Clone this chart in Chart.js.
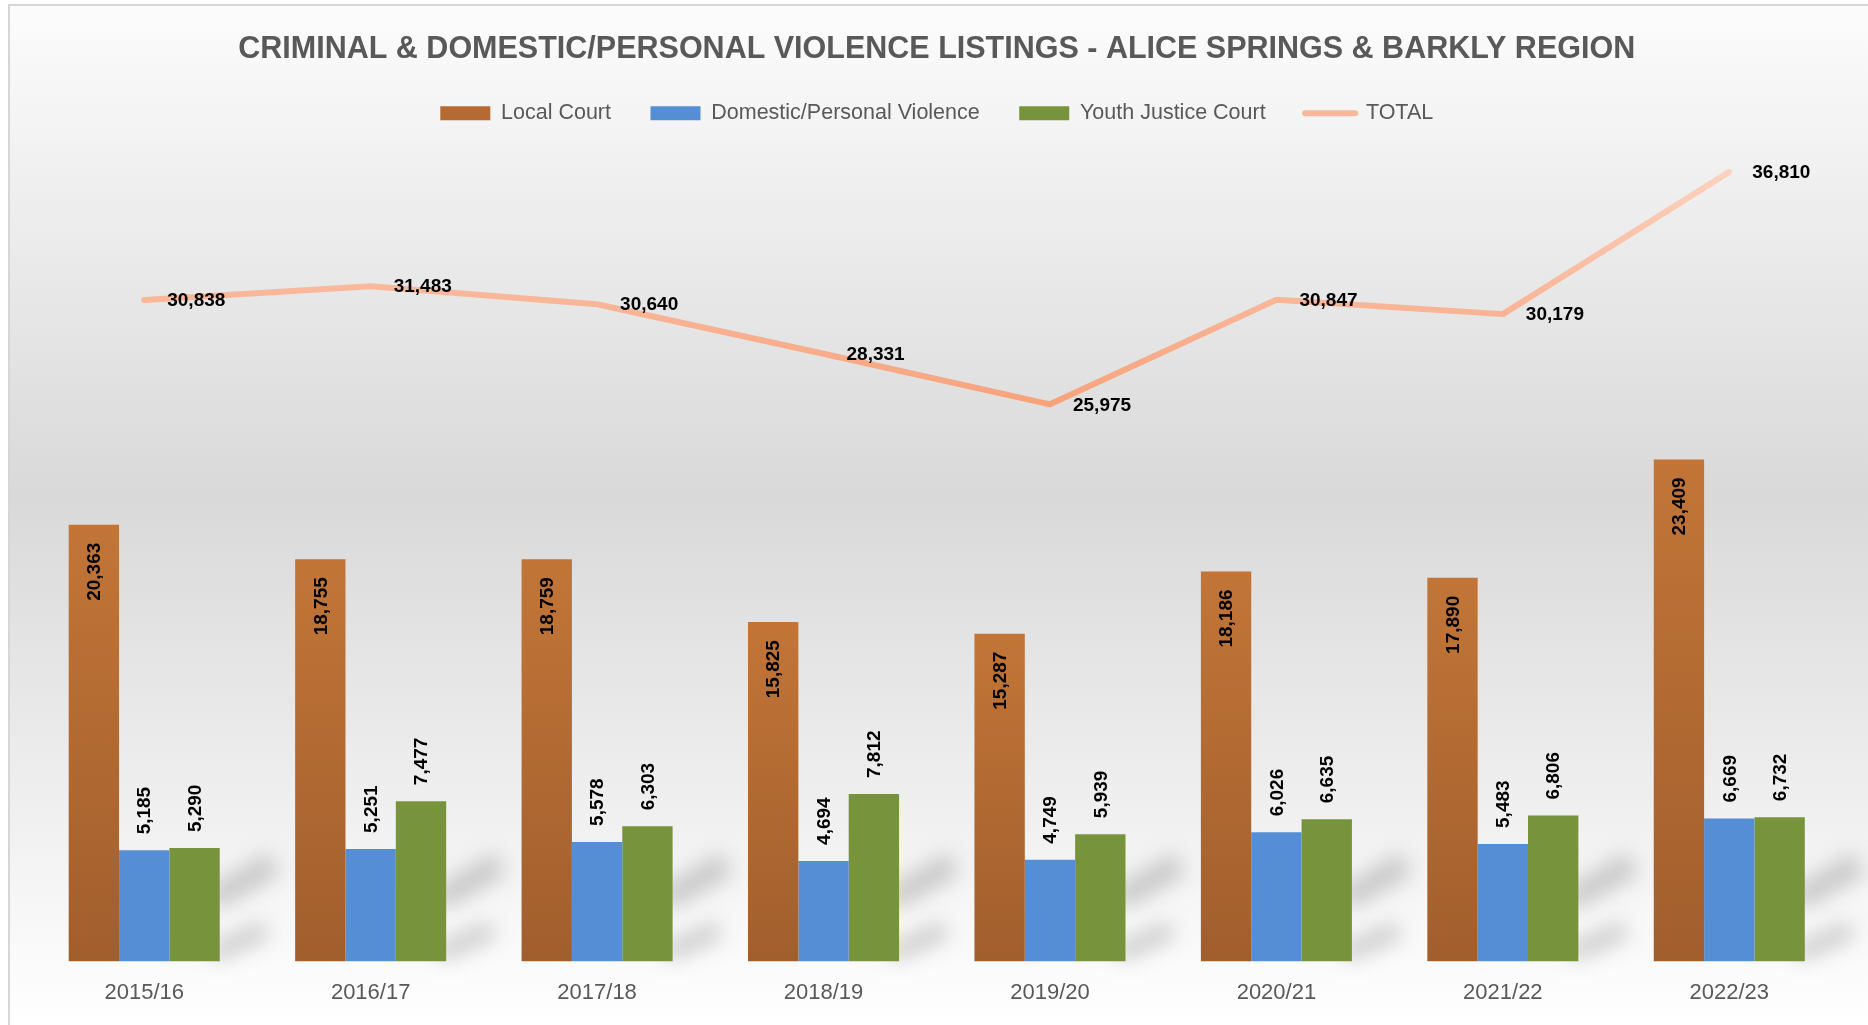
<!DOCTYPE html>
<html>
<head>
<meta charset="utf-8">
<title>Criminal & Domestic/Personal Violence Listings</title>
<script src="https://cdn.jsdelivr.net/npm/chart.js@4"></script>
<style>
    html, body { margin: 0; padding: 0; background: #fff; }
    #wrapper { position: relative; width: 1868px; height: 1025px; }
</style>
</head>
<body>
<div id="wrapper">
    <canvas id="barChart" width="1868" height="1025"></canvas>
</div>
<script>
var years = ["2015/16", "2016/17", "2017/18", "2018/19", "2019/20", "2020/21", "2021/22", "2022/23"];
var localCourt = [20363, 18755, 18759, 15825, 15287, 18186, 17890, 23409];
var domesticViolence = [5185, 5251, 5578, 4694, 4749, 6026, 5483, 6669];
var youthJustice = [5290, 7477, 6303, 7812, 5939, 6635, 6806, 6732];
var total = [30838, 31483, 30640, 28331, 25975, 30847, 30179, 36810];

var FONT = '"Liberation Sans", Arial, sans-serif';
Chart.defaults.font.family = FONT;

// Excel style background: light at top, grey in the middle, white at the bottom
var background = {
    id: 'background',
    beforeDraw: function (chart) {
        var ctx = chart.ctx, w = chart.width, h = chart.height;
        ctx.save();
        ctx.fillStyle = '#ffffff';
        ctx.fillRect(0, 0, w, h);
        var g = ctx.createLinearGradient(0, 5, 0, h);
        g.addColorStop(0, '#fcfcfc');
        g.addColorStop(0.48, '#d9d9d9');
        g.addColorStop(1, '#ffffff');
        ctx.fillStyle = g;
        ctx.fillRect(9, 5, w - 9, h - 5);
        ctx.strokeStyle = '#d6d6d6';
        ctx.lineWidth = 2;
        ctx.beginPath();
        ctx.moveTo(9, h);
        ctx.lineTo(9, 5);
        ctx.lineTo(w, 5);
        ctx.stroke();
        ctx.restore();
    }
};

// soft perspective shadow to the right of each bar group
var barShadows = {
    id: 'barShadows',
    beforeDatasetsDraw: function (chart) {
        var ctx = chart.ctx;
        var meta = chart.getDatasetMeta(2);
        ctx.save();
        ctx.filter = 'blur(10px)';
        ctx.strokeStyle = 'rgba(100,100,100,0.3)';
        ctx.lineCap = 'butt';
        meta.data.forEach(function (bar) {
            var xr = bar.x + bar.width / 2;
            ctx.lineWidth = 24;
            ctx.beginPath();
            ctx.moveTo(xr - 8, bar.base - 62);
            ctx.lineTo(xr + 54, bar.base - 98);
            ctx.stroke();
            ctx.lineWidth = 18;
            ctx.beginPath();
            ctx.moveTo(xr - 8, bar.base - 8);
            ctx.lineTo(xr + 46, bar.base - 32);
            ctx.stroke();
        });
        ctx.restore();
    }
};

var valueLabels = {
    id: 'valueLabels',
    afterDatasetsDraw: function (chart) {
        var ctx = chart.ctx;
        ctx.save();
        ctx.font = 'bold 19px ' + FONT;
        ctx.fillStyle = '#000';
        ctx.textBaseline = 'middle';
        chart.data.datasets.forEach(function (ds, i) {
            chart.getDatasetMeta(i).data.forEach(function (el, j) {
                var txt = ds.data[j].toLocaleString('en-US');
                if (ds.type === 'line') {
                    ctx.textAlign = 'left';
                    ctx.fillText(txt, el.x + 23, el.y + 1);
                    return;
                }
                ctx.save();
                if (i === 0) {
                    // inside end
                    ctx.translate(el.x, el.y + 18);
                    ctx.rotate(-Math.PI / 2);
                    ctx.textAlign = 'right';
                } else {
                    // outside end
                    ctx.translate(el.x, el.y - 16);
                    ctx.rotate(-Math.PI / 2);
                    ctx.textAlign = 'left';
                }
                ctx.fillText(txt, 0, 1);
                ctx.restore();
            });
        });
        ctx.restore();
    }
};

function localGradient(context) {
    var chart = context.chart, y = chart.scales.y;
    if (!chart.chartArea || !y || context.raw === undefined) return '#b56a33';
    var top = y.getPixelForValue(context.raw), base = y.getPixelForValue(0);
    if (!isFinite(top) || !isFinite(base) || top === base) return '#b56a33';
    var g = chart.ctx.createLinearGradient(0, top, 0, base);
    g.addColorStop(0, '#c27537');
    g.addColorStop(1, '#a15e2d');
    return g;
}

function totalGradient(context) {
    var chart = context.chart, y = chart.scales.y;
    if (!chart.chartArea || !y) return '#f8b091';
    var a = y.getPixelForValue(37000), b = y.getPixelForValue(26000);
    if (!isFinite(a) || !isFinite(b) || a === b) return '#f8b091';
    var g = chart.ctx.createLinearGradient(0, a, 0, b);
    g.addColorStop(0, '#fcd3c0');
    g.addColorStop(0.6, '#f9b496');
    g.addColorStop(1, '#f7a37c');
    return g;
}

var legendColors = ['#b56a33', '#558ed5', '#77933c', '#f9b799'];

var ctxB = document.getElementById("barChart").getContext('2d');
var myBarChart = new Chart(ctxB, {
    type: 'bar',
    data: {
        labels: years,
        datasets: [{
            label: "Local Court",
            data: localCourt,
            backgroundColor: localGradient
        }, {
            label: "Domestic/Personal Violence",
            data: domesticViolence,
            backgroundColor: '#558ed5'
        }, {
            label: "Youth Justice Court",
            data: youthJustice,
            backgroundColor: '#77933c'
        }, {
            type: 'line',
            label: "TOTAL",
            data: total,
            borderColor: totalGradient,
            backgroundColor: '#f9b799',
            borderWidth: 6,
            borderCapStyle: 'round',
            borderJoinStyle: 'round',
            pointRadius: 0,
            tension: 0
        }]
    },
    options: {
        responsive: false,
        animation: false,
        devicePixelRatio: 1,
        layout: { padding: { left: 31, right: 25.5, top: 0, bottom: 1 } },
        datasets: { bar: { categoryPercentage: 0.667, barPercentage: 1, borderWidth: 0 } },
        plugins: {
            tooltip: { enabled: false },
            title: {
                display: true,
                text: "CRIMINAL & DOMESTIC/PERSONAL VIOLENCE LISTINGS - ALICE SPRINGS & BARKLY REGION",
                color: '#595959',
                font: { size: 30.5, weight: 'bold', lineHeight: 0.5 },
                padding: { top: 41.5, bottom: 6.25 }
            },
            legend: {
                labels: {
                    color: '#595959',
                    font: { size: 21.5 },
                    padding: 39.5,
                    usePointStyle: true,
                    pointStyleWidth: 50,
                    boxHeight: 14,
                    generateLabels: function (chart) {
                        return chart.data.datasets.map(function (ds, i) {
                            var isLine = ds.type === 'line';
                            return {
                                text: ds.label,
                                datasetIndex: i,
                                fillStyle: legendColors[i],
                                strokeStyle: legendColors[i],
                                lineWidth: isLine ? 6 : 0,
                                lineCap: 'round',
                                pointStyle: isLine ? 'line' : 'rect',
                                fontColor: '#595959',
                                hidden: false
                            };
                        });
                    }
                }
            }
        },
        scales: {
            x: {
                grid: { display: false, drawTicks: false },
                border: { display: false },
                ticks: { padding: 18, color: '#595959', font: { size: 22 } }
            },
            y: { display: false, min: 0, max: 38575 }
        }
    },
    plugins: [background, barShadows, valueLabels]
});
</script>
</body>
</html>
